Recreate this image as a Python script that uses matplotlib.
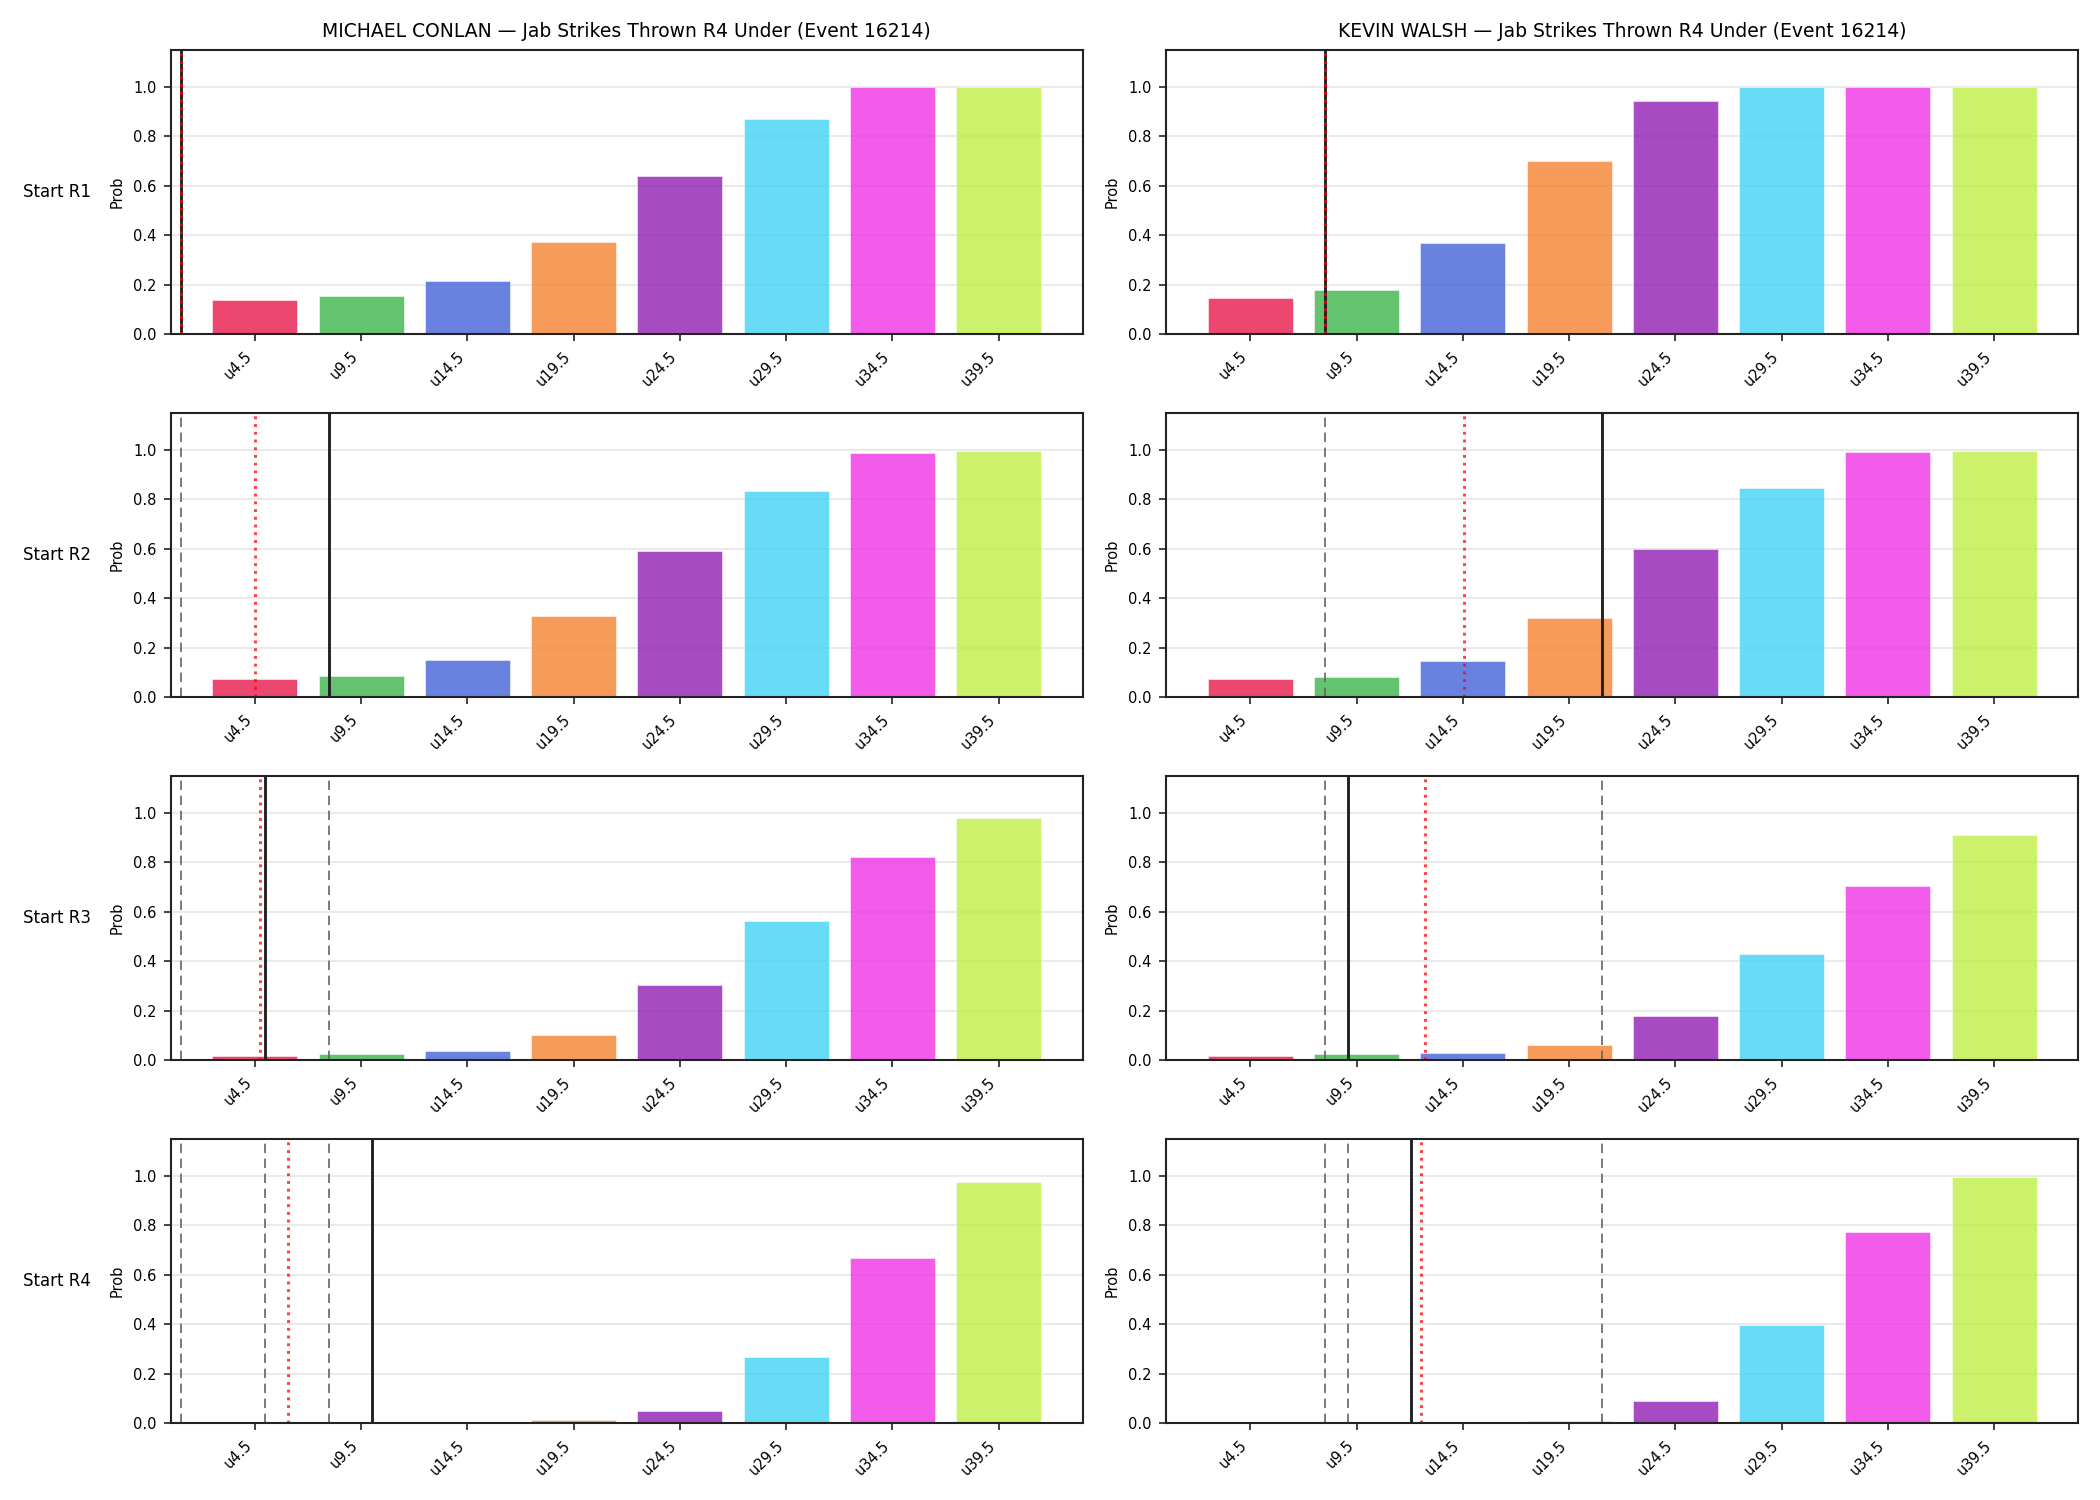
import matplotlib
matplotlib.use("Agg")
import matplotlib.pyplot as plt
import numpy as np

fighters = ["MICHAEL CONLAN", "KEVIN WALSH"]
title_suffix = "Jab Strikes Thrown R4 Under (Event 16214)"
rounds = ["Start R1", "Start R2", "Start R3", "Start R4"]
lines_labels = ["u4.5", "u9.5", "u14.5", "u19.5", "u24.5", "u29.5", "u34.5", "u39.5"]
bar_colors = ["#e6194b", "#3cb44b", "#4363d8", "#f58231",
              "#911eb4", "#42d4f4", "#f032e6", "#bfef45"]

# probabilities per round (rows) for each fighter
conlan_probs = [
    [0.137, 0.153, 0.214, 0.372, 0.639, 0.869, 0.998, 0.999],
    [0.071, 0.087, 0.148, 0.326, 0.593, 0.835, 0.989, 0.997],
    [0.016, 0.025, 0.036, 0.101, 0.302, 0.561, 0.824, 0.981],
    [0.000, 0.000, 0.001, 0.013, 0.048, 0.266, 0.670, 0.977],
]
walsh_probs = [
    [0.145, 0.177, 0.368, 0.700, 0.943, 0.998, 0.999, 1.000],
    [0.071, 0.083, 0.144, 0.318, 0.601, 0.847, 0.993, 0.997],
    [0.016, 0.025, 0.029, 0.061, 0.179, 0.428, 0.703, 0.912],
    [0.000, 0.000, 0.004, 0.008, 0.088, 0.396, 0.775, 0.997],
]

# reference marker positions (in bar-index units)
conlan_current = [-0.70, 0.70, 0.10, 1.10]
conlan_proj = [-0.70, 0.00, 0.046, 0.31]
conlan_prev = [[], [-0.70], [-0.70, 0.70], [-0.70, 0.10, 0.70]]

walsh_current = [0.70, 3.31, 0.915, 1.51]
walsh_proj = [0.70, 2.01, 1.64, 1.61]
walsh_prev = [[], [0.70], [0.70, 3.31], [0.70, 0.915, 3.31]]

probs_all = [conlan_probs, walsh_probs]
current_all = [conlan_current, walsh_current]
proj_all = [conlan_proj, walsh_proj]
prev_all = [conlan_prev, walsh_prev]

fig, axes = plt.subplots(4, 2, figsize=(14, 10), dpi=150)
fig.subplots_adjust(left=0.0814, right=0.9895, top=0.9667, bottom=0.0513,
                    wspace=0.092, hspace=0.278)

x = np.arange(len(lines_labels))
for c in range(2):
    for r in range(4):
        ax = axes[r, c]
        ax.set_axisbelow(True)
        ax.grid(axis="y", color="#e6e6e6", linewidth=0.8)
        ax.bar(x, probs_all[c][r], width=0.8, color=bar_colors, alpha=0.8,
               edgecolor="white", linewidth=0.3)
        for gx in prev_all[c][r]:
            ax.axvline(gx, color="#666666", linestyle=(0, (5, 3)), linewidth=0.9, alpha=0.9)
        ax.axvline(current_all[c][r], color="#222222", linestyle="-", linewidth=1.4)
        ax.axvline(proj_all[c][r], color="red", linestyle=":", linewidth=1.4, alpha=0.75)
        ax.set_ylim(0, 1.15)
        ax.set_xticks(x)
        ax.set_xticklabels(lines_labels, rotation=45, ha="right", fontsize=7)
        ax.set_yticks([0.0, 0.2, 0.4, 0.6, 0.8, 1.0])
        ax.tick_params(axis="y", labelsize=7)
        ax.set_ylabel("Prob", fontsize=7)
        for sp in ax.spines.values():
            sp.set_color("#222222")
            sp.set_linewidth(1.0)
        ax.tick_params(color="#222222")
        if r == 0:
            ax.set_title(f"{fighters[c]} \u2014 {title_suffix}", fontsize=9)
        if c == 0:
            ax.text(-0.125, 0.5, rounds[r], transform=ax.transAxes,
                    ha="center", va="center", fontsize=8)

fig.savefig("out.png", dpi=150)
